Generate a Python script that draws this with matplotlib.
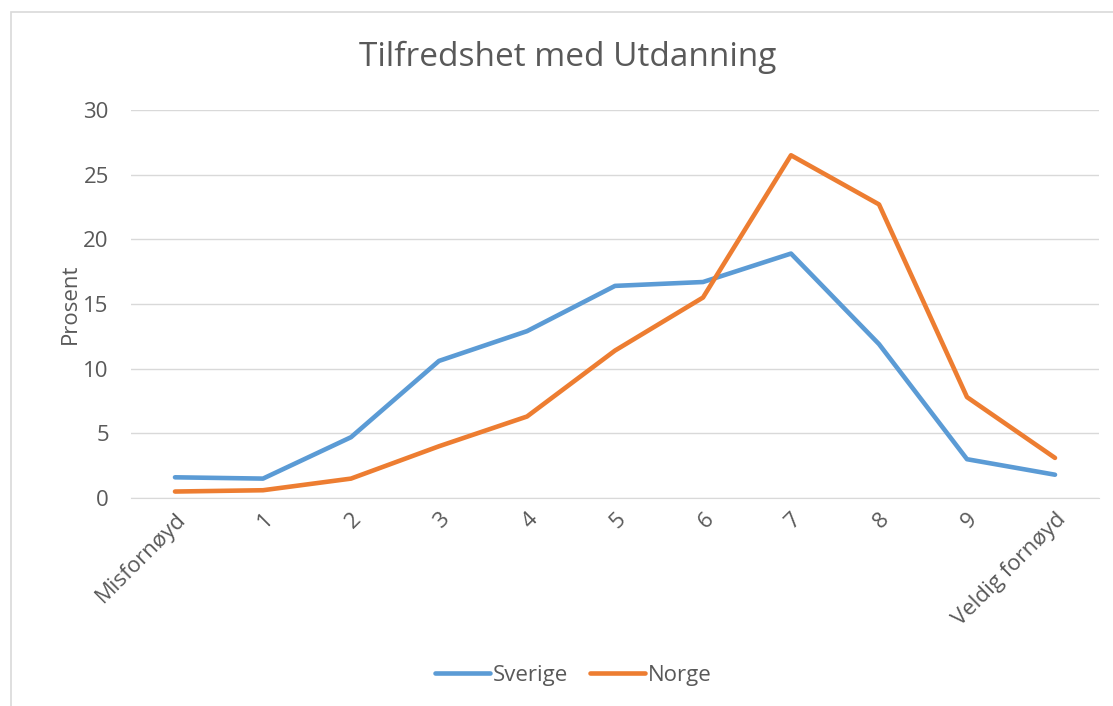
import matplotlib
matplotlib.use("Agg")
import matplotlib.pyplot as plt
from matplotlib.patches import Rectangle

# Data
categories = ["Misfornøyd", "1", "2", "3", "4", "5", "6", "7", "8", "9", "Veldig fornøyd"]
sverige = [1.6, 1.5, 4.7, 10.6, 12.9, 16.4, 16.7, 18.9, 11.9, 3.0, 1.8]
norge = [0.5, 0.6, 1.5, 4.0, 6.3, 11.4, 15.5, 26.5, 22.7, 7.8, 3.1]

plt.rcParams['font.family'] = ['Open Sans', 'DejaVu Sans']
grey = '#595959'
fs = 16

fig = plt.figure(figsize=(11.13, 7.06), dpi=100)
fig.patches.append(Rectangle((11 / 1113, -0.1), 1.2, 0.1 + (1 - 12 / 706),
                             transform=fig.transFigure, fill=False,
                             edgecolor='#D9D9D9', linewidth=1.2))

ax = fig.add_axes([131 / 1113, 1 - 498 / 706, 968 / 1113, 388 / 706])
x = range(len(categories))
ax.plot(x, sverige, color='#5B9BD5', linewidth=3.3, solid_capstyle='round', label='Sverige')
ax.plot(x, norge, color='#ED7D31', linewidth=3.3, solid_capstyle='round', label='Norge')

ax.set_xlim(-0.5, len(categories) - 0.5)
ax.set_ylim(0, 30)
ax.set_yticks(range(0, 31, 5))
ax.set_xticks(list(x))
ax.set_xticklabels(categories, rotation=45, ha='right', rotation_mode='anchor')
ax.grid(axis='y', color='#D9D9D9', linewidth=1)
ax.set_axisbelow(True)
for side in ['top', 'right', 'left']:
    ax.spines[side].set_visible(False)
ax.spines['bottom'].set_color('#D9D9D9')
ax.tick_params(length=0, labelsize=fs, labelcolor=grey)
ax.tick_params(axis='y', pad=16)
ax.tick_params(axis='x', pad=8)

ax.set_ylabel('Prosent', fontsize=fs, color=grey, labelpad=2)
fig.text(568 / 1113, 1 - 57 / 706, 'Tilfredshet med Utdanning', fontsize=24,
         color=grey, ha='center', va='center')

fig.legend(loc='center', bbox_to_anchor=(573 / 1113, 1 - 675 / 706), ncol=2,
           frameon=False, fontsize=fs, labelcolor=grey, handlelength=2.5,
           handletextpad=0.1, columnspacing=1.0)

plt.savefig('out.png', dpi=100)
